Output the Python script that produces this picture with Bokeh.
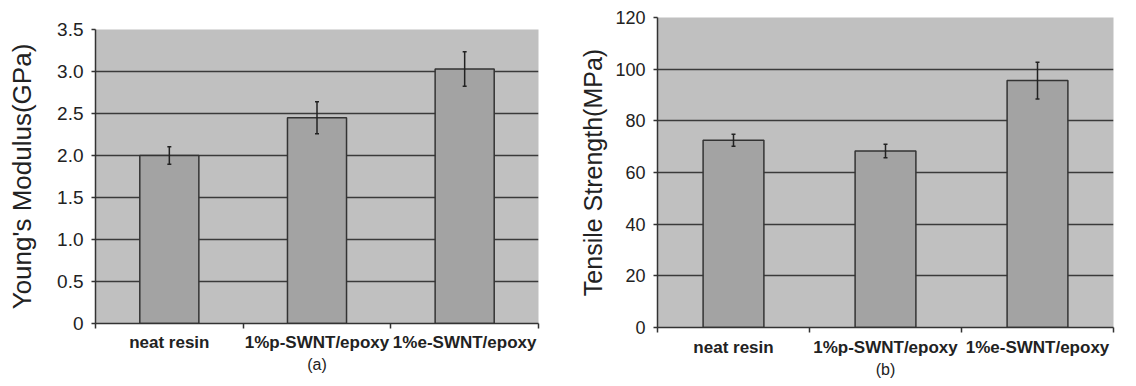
from bokeh.plotting import figure
from bokeh.layouts import row, column
from bokeh.models import (Range1d, LinearAxis, FixedTicker,
                          Whisker, ColumnDataSource, TeeHead, Grid)
from bokeh.embed import file_html
from bokeh.resources import INLINE

categories = ["neat resin", "1%p-SWNT/epoxy", "1%e-SWNT/epoxy"]

modulus = [2.0, 2.45, 3.03]
modulus_err = [0.105, 0.19, 0.205]
modulus_ticks = [0, 0.5, 1.0, 1.5, 2.0, 2.5, 3.0, 3.5]
modulus_tick_labels = ["0", "0.5", "1.0", "1.5", "2.0", "2.5", "3.0", "3.5"]

strength = [72.5, 68.3, 95.6]
strength_err = [2.3, 2.6, 7.1]
strength_ticks = [0, 20, 40, 60, 80, 100, 120]
strength_tick_labels = ["0", "20", "40", "60", "80", "100", "120"]

FONT = "Liberation Sans"
DARK = "#333333"
TEXT = "#222222"


def panel(vals, errs, ticks, tick_labels, title, tag, width, height,
          b_left, b_top, b_bottom, b_right, tick_fs, title_fs, title_standoff,
          label_standoff, tag_standoff):
    n = len(categories)
    centers = [i + 0.5 for i in range(n)]
    src = ColumnDataSource(dict(
        x=centers, val=vals,
        upper=[v + e for v, e in zip(vals, errs)],
        lower=[v - e for v, e in zip(vals, errs)],
    ))
    p = figure(x_range=Range1d(0, n), y_range=Range1d(ticks[0], ticks[-1]),
               width=width, height=height, output_backend="svg", toolbar_location=None,
               x_axis_location=None, y_axis_location=None,
               min_border_left=b_left, min_border_top=b_top,
               min_border_bottom=b_bottom, min_border_right=b_right)
    p.center = []
    p.background_fill_color = "#c0c0c0"
    p.border_fill_color = "white"
    p.outline_line_color = None

    grid = Grid(dimension=1, ticker=FixedTicker(ticks=ticks[1:-1]),
                grid_line_color="#3a3a3a", grid_line_width=1.6)
    p.add_layout(grid)

    p.vbar(x="x", top="val", width=0.4, source=src, fill_color="#a3a3a3",
           line_color=DARK, line_width=1.5)
    wh = Whisker(base="x", upper="upper", lower="lower", source=src,
                 line_color=TEXT, line_width=1.5, level="overlay",
                 upper_head=TeeHead(size=4, line_color=TEXT, line_width=1.5),
                 lower_head=TeeHead(size=4, line_color=TEXT, line_width=1.5))
    p.add_layout(wh)

    yax = LinearAxis(ticker=FixedTicker(ticks=ticks),
                     major_label_overrides={t: l for t, l in zip(ticks, tick_labels)})
    yax.axis_line_color = DARK
    yax.axis_line_width = 1.5
    yax.major_tick_line_color = DARK
    yax.major_tick_line_width = 1.5
    yax.major_tick_in = 0
    yax.major_tick_out = 4
    yax.minor_tick_line_color = None
    yax.major_label_text_font = FONT
    yax.major_label_text_font_size = tick_fs
    yax.major_label_text_color = TEXT
    yax.major_label_standoff = 8
    yax.axis_label = title
    yax.axis_label_text_font = FONT
    yax.axis_label_text_font_size = title_fs
    yax.axis_label_text_font_style = "normal"
    yax.axis_label_text_color = TEXT
    yax.axis_label_standoff = title_standoff
    p.add_layout(yax, "left")

    # category labels at bar centres, small ticks at the category boundaries
    xax = LinearAxis(ticker=FixedTicker(ticks=centers, minor_ticks=list(range(n + 1))),
                     major_label_overrides={c: name for c, name in zip(centers, categories)})
    xax.axis_line_color = DARK
    xax.axis_line_width = 1.5
    xax.major_tick_line_color = None
    xax.major_tick_in = 0
    xax.major_tick_out = 0
    xax.minor_tick_line_color = DARK
    xax.minor_tick_line_width = 1.5
    xax.minor_tick_in = 0
    xax.minor_tick_out = 5
    xax.major_label_text_font = FONT
    xax.major_label_text_font_size = "17px"
    xax.major_label_text_font_style = "bold"
    xax.major_label_text_color = TEXT
    xax.major_label_standoff = label_standoff
    xax.axis_label = tag
    xax.axis_label_text_font = FONT
    xax.axis_label_text_font_size = "16px"
    xax.axis_label_text_font_style = "normal"
    xax.axis_label_text_color = TEXT
    xax.axis_label_standoff = tag_standoff
    p.add_layout(xax, "below")
    return p


p1 = panel(modulus, modulus_err, modulus_ticks, modulus_tick_labels,
           "Young's Modulus(GPa)", "(a)", 560, 384, 95, 29, 61, 22,
           "19px", "26px", 17, 4, 1)
p2 = panel(strength, strength_err, strength_ticks, strength_tick_labels,
           "Tensile Strength(MPa)", "(b)", 576, 384, 97, 17, 57, 23,
           "18px", "25px", 5, 5, 1)

layout = row(column(p1), column(p2))
open("out.html", "w").write(file_html(layout, INLINE))
